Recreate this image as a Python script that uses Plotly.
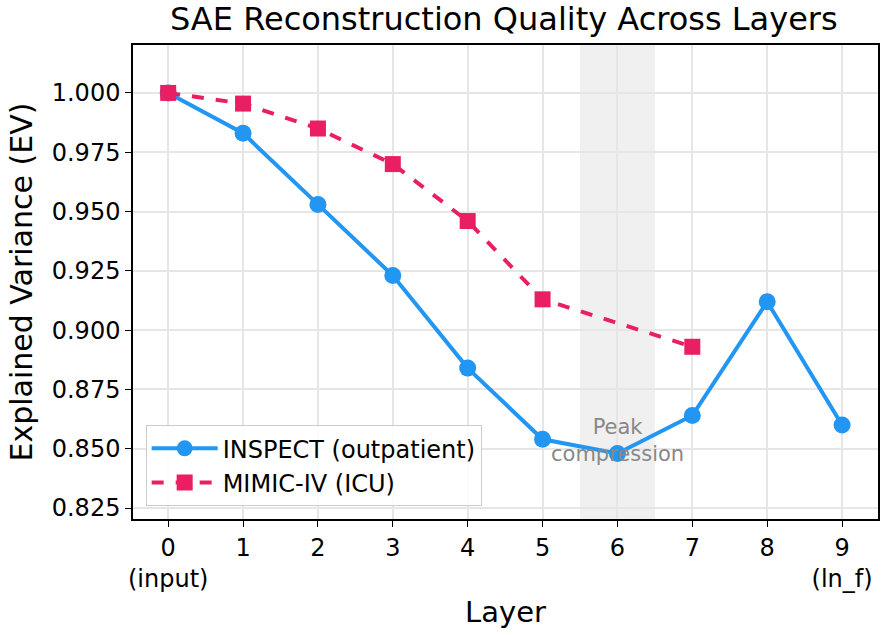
import plotly.graph_objects as go

layers = [0, 1, 2, 3, 4, 5, 6, 7, 8, 9]
tick_labels = ["0<br>(input)", "1", "2", "3", "4", "5", "6", "7", "8", "9<br>(ln_f)"]
inspect_x = [0, 1, 2, 3, 4, 5, 6, 7, 8, 9]
inspect_ev = [1.000, 0.983, 0.953, 0.923, 0.884, 0.854, 0.848, 0.864, 0.912, 0.860]
mimic_x = [0, 1, 2, 3, 4, 5, 7]
mimic_ev = [1.000, 0.9955, 0.985, 0.970, 0.946, 0.913, 0.893]
y_ticks = [0.825, 0.850, 0.875, 0.900, 0.925, 0.950, 0.975, 1.000]
band = [5.5, 6.5]

FONT = "DejaVu Sans"
fig = go.Figure()
fig.add_vrect(x0=band[0], x1=band[1], fillcolor="#f0f0f0", line_width=0, layer="below")
fig.add_trace(go.Scatter(x=inspect_x, y=inspect_ev, mode="lines+markers",
                         name="INSPECT (outpatient)",
                         line=dict(color="#2196F3", width=4),
                         marker=dict(symbol="circle", size=17, color="#2196F3")))
fig.add_trace(go.Scatter(x=mimic_x, y=mimic_ev, mode="lines+markers",
                         name="MIMIC-IV (ICU)",
                         line=dict(color="#E91E63", width=4, dash="dash"),
                         marker=dict(symbol="square", size=16, color="#E91E63")))
fig.add_annotation(x=6, y=0.8535, text="Peak<br>compression", showarrow=False,
                   font=dict(family=FONT, size=21, color="#888888"))
fig.add_annotation(xref="paper", yref="paper", x=-0.151, y=0.5, xanchor="center",
                   yanchor="middle", textangle=-90, showarrow=False,
                   text="Explained Variance (EV)", font=dict(family=FONT, size=30, color="black"))

fig.update_layout(
    width=887, height=635,
    margin=dict(l=133, r=7, t=45, b=116),
    paper_bgcolor="white", plot_bgcolor="white",
    font=dict(family=FONT, color="black", size=24),
    title=dict(text="SAE Reconstruction Quality Across Layers", x=0.568, xanchor="center",
               y=0.970, yanchor="middle", font=dict(size=32)),
    legend=dict(x=0.017, y=0.027, xanchor="left", yanchor="bottom",
                bordercolor="#cccccc", borderwidth=1, bgcolor="rgba(255,255,255,0.85)",
                itemwidth=66, font=dict(size=24)),
    showlegend=True,
)
fig.update_xaxes(range=[-0.47, 9.48], tickvals=layers, ticktext=tick_labels,
                 showline=True, linecolor="black", linewidth=1.5, mirror=True,
                 ticks="outside", ticklen=6, tickcolor="black",
                 showgrid=True, gridcolor="#e6e6e6", gridwidth=1.5, zeroline=False,
                 tickfont=dict(size=24),
                 title=dict(text="Layer", font=dict(size=29), standoff=10))
fig.update_yaxes(range=[0.8204, 1.0202], tickvals=y_ticks, tickformat=".3f",
                 showline=True, linecolor="black", linewidth=1.5, mirror=True,
                 ticks="outside", ticklen=6, tickcolor="black",
                 showgrid=True, gridcolor="#e6e6e6", gridwidth=1.5, zeroline=False,
                 tickfont=dict(size=24))
fig.write_html("out.html")
